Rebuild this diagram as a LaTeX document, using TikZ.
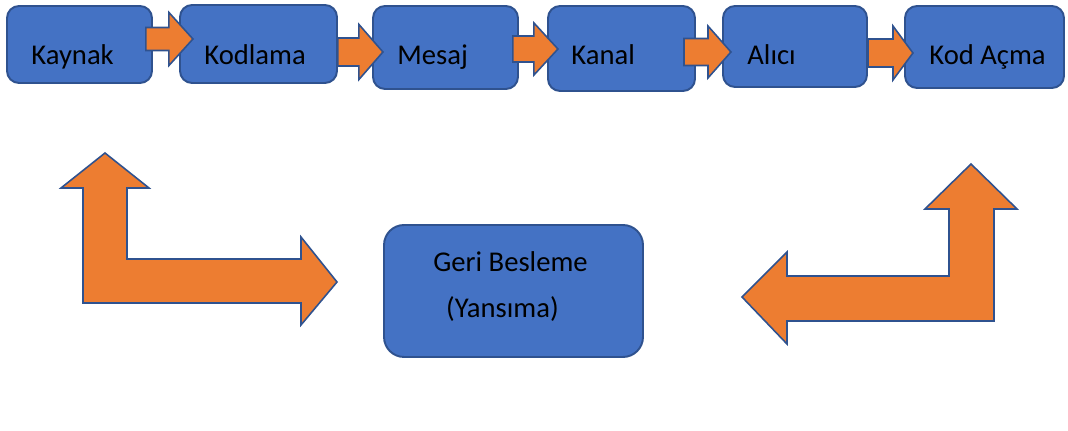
\documentclass[tikz,border=0pt]{standalone}
\usepackage{fontspec}
\setmainfont{Carlito}
\usetikzlibrary{calc}
\definecolor{boxblue}{HTML}{4472C4}
\definecolor{edgeblue}{HTML}{2F528F}
\definecolor{arrorange}{HTML}{ED7D31}
% tail point, length, shaft half, head half, head length
\newcommand{\blkarrow}[5]{%
	\draw[blk] #1 ++(0,-#3) -- ++({#2-#5},0) -- ++(0,{#3-#4}) -- ++(#5,#4) -- ++(-#5,#4) -- ++(0,{#3-#4}) -- ++({#5-#2},0) -- cycle;}
\begin{document}
\begin{tikzpicture}[x=0.02cm,y=-0.02cm]
	\tikzstyle{unit} = [rectangle,rounded corners=0.24cm,draw=edgeblue,fill=boxblue,line width=1.1pt,inner sep=0pt]
	\tikzstyle{lbl} = [inner sep=0pt,anchor=base west,font=\fontsize{16.3}{19}\selectfont]
	\tikzstyle{blk} = [fill=arrorange,draw=edgeblue,line width=0.9pt]
	\useasboundingbox (0,0) rectangle (1068,431);
		
		\node[unit,minimum width=2.90cm,minimum height=1.54cm] (u1) at (79.5,44.5){};
		\node[unit,minimum width=3.14cm,minimum height=1.56cm] (u2) at (258.5,44){};
		\node[unit,minimum width=2.90cm,minimum height=1.66cm] (u3) at (445.5,47.5){};
		\node[unit,minimum width=2.94cm,minimum height=1.70cm] (u4) at (621.5,48.5){};
		\node[unit,minimum width=2.88cm,minimum height=1.62cm] (u5) at (795,46.5){};
		\node[unit,minimum width=3.18cm,minimum height=1.64cm] (u6) at (984.5,47){};
		\node[unit,rounded corners=0.4cm,minimum width=5.18cm,minimum height=2.64cm] (fb) at (513.5,291){};
		
		\node[lbl] (t1) at ([xshift=0.5cm,yshift=-1.19cm]u1.north west){Kaynak};
		\node[lbl] (t2) at ([xshift=0.5cm,yshift=-1.21cm]u2.north west){Kodlama};
		\node[lbl] (t3) at ([xshift=0.5cm,yshift=-1.19cm]u3.north west){Mesaj};
		\node[lbl] (t4) at ([xshift=0.48cm,yshift=-1.19cm]u4.north west){Kanal};
		\node[lbl] (t5) at ([xshift=0.5cm,yshift=-1.19cm]u5.north west){Alıcı};
		\node[lbl] (t6) at ([xshift=0.5cm,yshift=-1.19cm]u6.north west){Kod Açma};
		\node[lbl,anchor=base] (fb1) at ([xshift=-0.06cm,yshift=-0.94cm]fb.north){Geri Besleme};
		\node[lbl,anchor=base] (fb2) at ([xshift=-0.22cm,yshift=-1.86cm]fb.north){(Yansıma)};
		
		\blkarrow{($(u1.east)+(-7,-5.5)$)}{47}{11.5}{26.5}{24}
		\blkarrow{($(u2.east)+(0,8)$)}{45}{14}{27.5}{24}
		\blkarrow{($(u3.east)+(-6,1.5)$)}{45}{13}{26}{24}
		\blkarrow{($(u4.east)+(-12,3.5)$)}{47}{13.5}{26}{23}
		\blkarrow{($(u5.east)+(0,6.5)$)}{45}{14}{27}{20}
		
		\draw[blk] (105,153) -- (149,188) -- (127,188) -- (127,259) -- (301,259) -- (301,237) -- (337,282) -- (301,325) -- (301,303) -- (83,303) -- (83,188) -- (61,188) -- cycle;
		\draw[blk] (971,164) -- (1017,209) -- (994,209) -- (994,321) -- (787,321) -- (787,344) -- (742,297) -- (787,252) -- (787,276) -- (949,276) -- (949,209) -- (925,209) -- cycle;
		
\end{tikzpicture}
\end{document}
